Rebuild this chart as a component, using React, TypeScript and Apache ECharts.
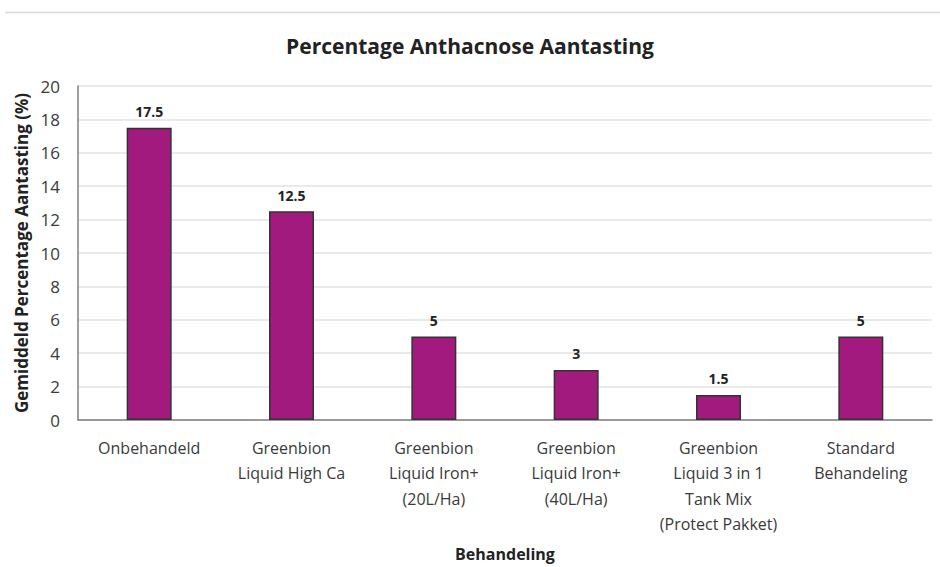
import React, { useEffect, useRef } from "react";
import * as echarts from "echarts";

const categories = [
  "Onbehandeld",
  "Greenbion\nLiquid High Ca",
  "Greenbion\nLiquid Iron+\n(20L/Ha)",
  "Greenbion\nLiquid Iron+\n(40L/Ha)",
  "Greenbion\nLiquid 3 in 1\nTank Mix\n(Protect Pakket)",
  "Standard\nBehandeling",
];
const values = [17.5, 12.5, 5, 3, 1.5, 5];
const titleText = "Percentage Anthacnose Aantasting";
const yName = "Gemiddeld Percentage Aantasting (%)";
const xName = "Behandeling";

export default function App() {
  const ref = useRef<HTMLDivElement>(null);
  useEffect(() => {
    document.body.style.margin = "0";
    const chart = echarts.init(ref.current!, null, { renderer: "svg" });
    chart.setOption({
      animation: false,
      backgroundColor: "#ffffff",
      textStyle: { fontFamily: "Open Sans" },
      title: {
        text: titleText,
        left: "center",
        top: 30,
        textStyle: { fontFamily: "Open Sans", fontWeight: "bold", fontSize: 21, color: "#222" },
      },
      graphic: [
        {
          type: "line",
          shape: { x1: 5, y1: 12.5, x2: 940, y2: 12.5 },
          style: { stroke: "#d9d9d9", lineWidth: 1.5 },
        },
      ],
      grid: { left: 78, right: 8, top: 86, bottom: 143 },
      xAxis: {
        type: "category",
        data: categories,
        name: xName,
        nameLocation: "middle",
        nameGap: 126,
        nameTextStyle: { fontWeight: "bold", fontSize: 16, color: "#222", fontFamily: "Open Sans" },
        axisLine: { lineStyle: { color: "#7f7f7f", width: 1.5 } },
        axisTick: { show: false },
        axisLabel: {
          interval: 0,
          margin: 15,
          fontSize: 16,
          lineHeight: 25.5,
          color: "#3a3a3a",
          fontFamily: "Open Sans",
        },
      },
      yAxis: {
        type: "value",
        min: 0,
        max: 20,
        interval: 2,
        name: yName,
        nameLocation: "middle",
        nameGap: 47,
        nameTextStyle: { fontWeight: "bold", fontSize: 17, color: "#222", fontFamily: "Open Sans" },
        axisLine: { show: true, lineStyle: { color: "#7f7f7f", width: 1.5 } },
        axisTick: { show: false },
        axisLabel: { margin: 18, fontSize: 17, color: "#3a3a3a", fontFamily: "Open Sans" },
        splitLine: { lineStyle: { color: "#e3e3e3", width: 1.5 } },
      },
      series: [
        {
          type: "bar",
          data: values,
          barWidth: 45,
          itemStyle: { color: "#A31A7E", borderColor: "#333333", borderWidth: 1.5 },
          label: {
            show: true,
            position: "top",
            distance: 9,
            fontWeight: "bold",
            fontSize: 14,
            color: "#222",
            fontFamily: "Open Sans",
          },
        },
      ],
    });
    return () => chart.dispose();
  }, []);
  return (
    <div
      ref={ref}
      style={{ position: "fixed", left: 0, top: 0, width: 940, height: 567 }}
    />
  );
}
